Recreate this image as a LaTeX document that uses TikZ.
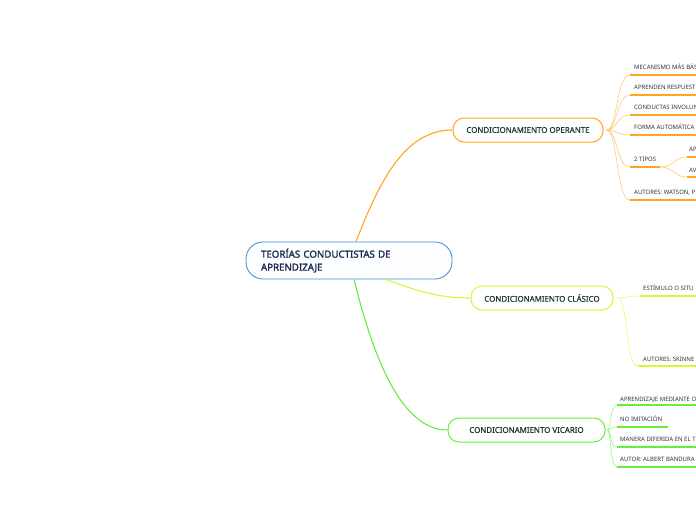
\documentclass[tikz,border=0pt]{standalone}
\usepackage{fontspec}
\setmainfont{Noto Sans}
\newfontfamily\semib[FakeBold=1.6]{Noto Sans}
\newfontfamily\medium[FakeBold=0.6]{Noto Sans}
\definecolor{rootblue}{HTML}{4A8FD0}
\definecolor{rootfill}{HTML}{FCFEFF}
\definecolor{roottext}{HTML}{1B2A4E}
\definecolor{nodetext}{HTML}{1C3D2E}
\definecolor{orangeA}{HTML}{FFA51E}
\definecolor{orangeB}{HTML}{FFC870}
\definecolor{limeA}{HTML}{D8F53A}
\definecolor{limeB}{HTML}{E6FA6E}
\definecolor{greenA}{HTML}{66EE3C}
\definecolor{greenB}{HTML}{99F57A}
\definecolor{labeltext}{HTML}{333333}
\tikzset{
  rootbox/.style={draw=rootblue, line width=0.9pt, fill=rootfill, rounded corners=17pt,
    minimum height=37pt, text width=176pt, inner xsep=15pt, align=left,
    text=roottext, font=\fontsize{9.7}{13}\selectfont\semib},
  mainbox/.style={draw=#1, line width=1pt, fill=white, rounded corners=11pt,
    minimum height=24pt, text=nodetext, font=\fontsize{7.9}{9}\selectfont\medium},
  sublabel/.style={anchor=base west, inner sep=0pt, text=labeltext,
    font=\fontsize{6.0}{6.5}\selectfont},
  mainlink/.style={draw=#1, line width=1.1pt},
  twig/.style={draw=#1, line width=0.6pt},
  uline/.style={draw=#1, line width=1.4pt},
}
\begin{document}
\begin{tikzpicture}[x=1pt,y=-1pt]
\useasboundingbox (0,0) rectangle (696,520);

% main nodes
\node[rootbox] (root) at (349,260.5) {TEORÍAS CONDUCTISTAS DE\\APRENDIZAJE};
\node[mainbox=orangeA, minimum width=150pt] (op) at (528,130) {CONDICIONAMIENTO OPERANTE};
\node[mainbox=limeA, minimum width=142pt] (cl) at (542,298) {CONDICIONAMIENTO CLÁSICO};
\node[mainbox=greenA, minimum width=157pt] (vi) at (526.5,430) {CONDICIONAMIENTO VICARIO};

% main links
\draw[mainlink=orangeA] ([xshift=7pt]root.north) .. controls (380,180) and (405,130) .. (op.west);
\draw[mainlink=limeA] ([xshift=37pt]root.south) .. controls (420,292) and (440,298) .. (cl.west);
\draw[mainlink=greenA] ([xshift=5pt]root.south) .. controls (374,360) and (402,430) .. (vi.west);

% ---------- operante ----------
\coordinate (o1) at (630,75);  \coordinate (o1e) at (700,75);
\coordinate (o2) at (630,95);  \coordinate (o2e) at (700,95);
\coordinate (o3) at (630,115); \coordinate (o3e) at (700,115);
\coordinate (o4) at (630,135); \coordinate (o4e) at (700,135);
\coordinate (o5) at (630,167); \coordinate (o5e) at (660,167);
\coordinate (o6) at (630,200); \coordinate (o6e) at (700,200);
\coordinate (o7) at (687,157); \coordinate (o7e) at (700,157);
\coordinate (o8) at (687,177); \coordinate (o8e) at (700,177);
\foreach \c in {o1,o2,o3,o4,o5,o6}{
  \draw[twig=orangeB] ([xshift=3pt]op.east) .. controls (618,130) and (616,0|-\c) .. (\c);
}
\foreach \c in {o1,o2,o3,o4,o5,o6,o7,o8}{
  \draw[uline=orangeA] (\c) -- (\c e);
}
\draw[twig=orangeB] (o5e) .. controls (674,167) and (674,157) .. (o7);
\draw[twig=orangeB] (o5e) .. controls (674,167) and (674,177) .. (o8);
\node[sublabel] (t1) at (634,69) {MECANISMO MÁS BÁS};
\node[sublabel] (t2) at (634,89) {APRENDEN RESPUEST};
\node[sublabel] (t3) at (634,109) {CONDUCTAS INVOLUN};
\node[sublabel] (t4) at (634,129) {FORMA AUTOMÁTICA};
\node[sublabel] (t5) at (634,161) {2 TIPOS};
\node[sublabel] (t6) at (634,194) {AUTORES: WATSON, P};
\node[sublabel] (t7) at (689,151) {AP};
\node[sublabel] (t8) at (689,172) {AV};

% ---------- clasico ----------
\coordinate (c1) at (640,296); \coordinate (c1e) at (700,296);
\coordinate (c2) at (638,366); \coordinate (c2e) at (700,366);
\draw[twig=limeB] ([xshift=2pt]cl.east) .. controls (626,298) and (628,296) .. (c1);
\draw[twig=limeB] ([xshift=6pt]cl.east) .. controls (630,318) and (626,366) .. (c2);
\draw[uline=limeA] (c1) -- (c1e);
\draw[uline=limeA] (c2) -- (c2e);
\node[sublabel] (s1) at (643,290) {ESTÍMULO O SITU};
\node[sublabel] (s2) at (643,361) {AUTORES: SKINNE};

% ---------- vicario ----------
\coordinate (v1) at (617,405); \coordinate (v1e) at (700,405);
\coordinate (v2) at (617,427); \coordinate (v2e) at (668,427);
\coordinate (v3) at (617,447); \coordinate (v3e) at (700,447);
\coordinate (v4) at (617,467); \coordinate (v4e) at (700,467);
\foreach \c in {v1,v2,v3,v4}{
  \draw[twig=greenB] ([xshift=2pt]vi.east) .. controls (611,430) and (610,0|-\c) .. (\c);
  \draw[uline=greenA] (\c) -- (\c e);
}
\node[sublabel] (u1) at (620,401) {APRENDIZAJE MEDIANTE O};
\node[sublabel] (u2) at (620,421) {NO IMITACIÓN};
\node[sublabel] (u3) at (620,441) {MANERA DIFERIDA EN EL T};
\node[sublabel] (u4) at (620,461) {AUTOR: ALBERT BANDURA};
\end{tikzpicture}
\end{document}
